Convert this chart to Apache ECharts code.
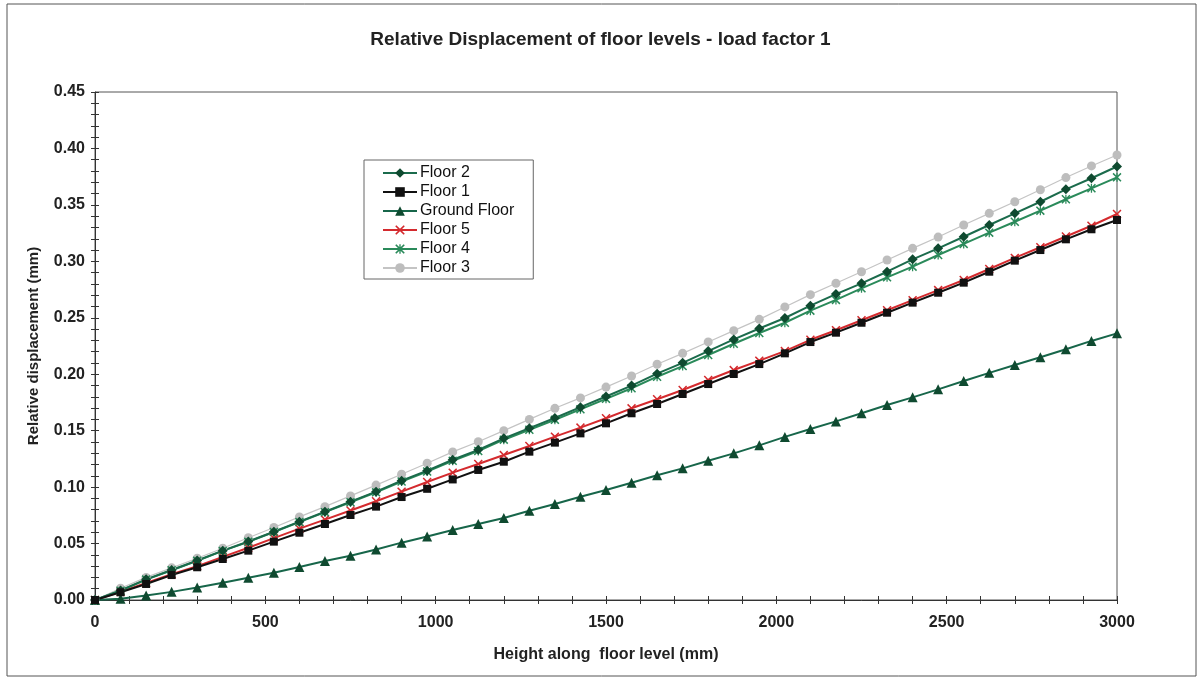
<!DOCTYPE html>
<html>
<head>
<meta charset="utf-8">
<script src="https://cdn.jsdelivr.net/npm/echarts@6/dist/echarts.min.js"></script>
<style>
html,body{margin:0;padding:0;background:#fff;}
#c{width:1201px;height:679px;}
</style>
</head>
<body>
<div id="c"></div>
<script>
// Height along floor level (mm)
const heights = [0,75,150,225,300,375,450,525,600,675,750,825,900,975,1050,1125,1200,1275,1350,1425,1500,1575,1650,1725,1800,1875,1950,2025,2100,2175,2250,2325,2400,2475,2550,2625,2700,2775,2850,2925,3000];

const floor2 = [0,0.0085,0.0183,0.0266,0.0350,0.0437,0.0518,0.0605,0.0694,0.0782,0.0871,0.0960,0.1057,0.1146,0.1242,0.1330,0.1432,0.1522,0.1612,0.1708,0.1803,0.1899,0.2005,0.2101,0.2205,0.2308,0.2405,0.2498,0.2607,0.2710,0.2805,0.2908,0.3018,0.3115,0.3218,0.3322,0.3425,0.3528,0.3638,0.3736,0.3840];
const floor1 = [0,0.0068,0.0142,0.0221,0.0290,0.0363,0.0437,0.0517,0.0596,0.0673,0.0753,0.0827,0.0912,0.0985,0.1068,0.1152,0.1225,0.1314,0.1394,0.1476,0.1565,0.1654,0.1736,0.1825,0.1913,0.2002,0.2090,0.2185,0.2285,0.2368,0.2456,0.2545,0.2634,0.2722,0.2811,0.2908,0.3006,0.3100,0.3195,0.3284,0.3366];
const groundFloor = [0,0.0012,0.0040,0.0072,0.0110,0.0152,0.0198,0.0242,0.0292,0.0345,0.0392,0.0448,0.0508,0.0562,0.0620,0.0673,0.0726,0.0790,0.0850,0.0914,0.0974,0.1039,0.1105,0.1166,0.1234,0.1299,0.1370,0.1445,0.1515,0.1582,0.1654,0.1727,0.1795,0.1866,0.1940,0.2012,0.2082,0.2150,0.2221,0.2295,0.2362];
const floor5 = [0,0.0072,0.0150,0.0228,0.0300,0.0382,0.0463,0.0548,0.0632,0.0712,0.0793,0.0875,0.0960,0.1045,0.1128,0.1205,0.1284,0.1364,0.1447,0.1527,0.1610,0.1698,0.1778,0.1860,0.1949,0.2037,0.2120,0.2205,0.2305,0.2390,0.2478,0.2567,0.2656,0.2745,0.2835,0.2932,0.3030,0.3125,0.3220,0.3315,0.3419];
const floor4 = [0,0.0082,0.0181,0.0264,0.0347,0.0435,0.0515,0.0602,0.0690,0.0778,0.0866,0.0954,0.1050,0.1138,0.1233,0.1320,0.1420,0.1508,0.1596,0.1690,0.1782,0.1876,0.1978,0.2072,0.2170,0.2270,0.2365,0.2456,0.2563,0.2658,0.2761,0.2858,0.2953,0.3056,0.3154,0.3254,0.3351,0.3449,0.3550,0.3647,0.3744];
const floor3 = [0,0.0104,0.0200,0.0285,0.0370,0.0458,0.0552,0.0642,0.0736,0.0827,0.0922,0.1018,0.1114,0.1212,0.1312,0.1402,0.1500,0.1600,0.1698,0.1790,0.1886,0.1984,0.2088,0.2185,0.2286,0.2386,0.2486,0.2596,0.2705,0.2806,0.2908,0.3012,0.3115,0.3215,0.3322,0.3425,0.3528,0.3634,0.3742,0.3845,0.3942];

const seriesNames = ['Floor 2','Floor 1','Ground Floor','Floor 5','Floor 4','Floor 3'];
const xTickLabels = ['0','500','1000','1500','2000','2500','3000'];
const yTickLabels = ['0.00','0.05','0.10','0.15','0.20','0.25','0.30','0.35','0.40','0.45'];

const FONT = '"Liberation Sans", Arial, sans-serif';
const crossPath = 'path://M0,1.2L1.2,0L5,3.8L8.8,0L10,1.2L6.2,5L10,8.8L8.8,10L5,6.2L1.2,10L0,8.8L3.8,5Z';
const starPath = 'path://M0,1.2L1.2,0L5,3.8L8.8,0L10,1.2L6.2,5L10,8.8L8.8,10L5,6.2L1.2,10L0,8.8L3.8,5Z M4.3,0L5.7,0L5.7,10L4.3,10Z';

function pairs(arr){ return heights.map((h,i)=>[h,arr[i]]); }

const chart = echarts.init(document.getElementById('c'), null, {renderer:'canvas'});

function mkX(inside, main){
  return {
    type:'value', min:0, max:3000, interval:500, position:'bottom',
    axisLine:{show:main, onZero:false, lineStyle:{color:'#333', width:1}},
    axisTick:{show:true, inside:inside, length:4, lineStyle:{color:'#333'}},
    minorTick:{show:true, splitNumber:5, length:4, lineStyle:{color:'#333'}},
    splitLine:{show:false},
    axisLabel:{show:main, color:'#222', fontFamily:FONT, fontWeight:'bold', fontSize:16, margin:15,
      formatter:(v)=>xTickLabels[Math.round(v/500)]},
    name: main ? 'Height along  floor level (mm)' : '',
    nameLocation:'middle', nameGap:47,
    nameTextStyle:{color:'#222', fontFamily:FONT, fontWeight:'bold', fontSize:16}
  };
}
function mkY(inside, main){
  return {
    type:'value', min:0, max:0.45, interval:0.05, position:'left',
    axisLine:{show:main, onZero:false, lineStyle:{color:'#333', width:1}},
    axisTick:{show:true, inside:inside, length:4, lineStyle:{color:'#333'}},
    minorTick:{show:true, splitNumber:5, length:4, lineStyle:{color:'#333'}},
    splitLine:{show:false},
    axisLabel:{show:main, color:'#222', fontFamily:FONT, fontWeight:'bold', fontSize:16, margin:10,
      formatter:(v)=>yTickLabels[Math.round(v/0.05)]},
    name: main ? 'Relative displacement (mm)' : '',
    nameLocation:'middle', nameGap:54, nameRotate:90,
    nameTextStyle:{color:'#222', fontFamily:FONT, fontWeight:'bold', fontSize:15}
  };
}

function mkSeries(name, data, color, lineW, symbol, size, symColor){
  return {
    name, type:'line', data:pairs(data), xAxisIndex:0, yAxisIndex:0,
    symbol, symbolSize:size, showSymbol:true, animation:false,
    lineStyle:{color, width:lineW},
    itemStyle:{color:symColor, borderWidth:0},
    emphasis:{disabled:true}
  };
}

chart.setOption({
  backgroundColor:'#ffffff',
  animation:false,
  title:{
    text:'Relative Displacement of floor levels - load factor 1',
    left:'center', top:25,
    textStyle:{color:'#222', fontFamily:FONT, fontWeight:'bold', fontSize:19}
  },
  grid:{left:95, top:92, width:1022, height:508, show:true, borderColor:'#555', borderWidth:1, backgroundColor:'transparent'},
  legend:{
    orient:'vertical', left:364, top:160,
    itemWidth:34, itemHeight:12, itemGap:1,
    padding:[4,19,2,18],
    borderColor:'#666', borderWidth:1, backgroundColor:'#fff',
    textStyle:{color:'#111', fontFamily:FONT, fontSize:16, lineHeight:18, padding:[0,0,0,-2]},
    data:seriesNames
  },
  xAxis:[mkX(false,true), mkX(true,false)],
  yAxis:[mkY(false,true), mkY(true,false)],
  graphic:[{type:'rect', shape:{x:7, y:4, width:1189, height:672}, style:{fill:'none', stroke:'#555', lineWidth:1}, silent:true, z:-1}],
  series:[
    mkSeries(seriesNames[3], floor5, '#d42a2e', 2, crossPath, 9, '#d42a2e'),
    mkSeries(seriesNames[2], groundFloor, '#17664a', 2, 'triangle', 10, '#0f4a30'),
    mkSeries(seriesNames[5], floor3, '#c4c4c4', 1.2, 'circle', 9, '#bdbdbd'),
    mkSeries(seriesNames[4], floor4, '#2a8a5a', 2, starPath, 9, '#2a8a5a'),
    mkSeries(seriesNames[0], floor2, '#1b6b4c', 2, 'diamond', 10, '#0f4a30'),
    mkSeries(seriesNames[1], floor1, '#111111', 2, 'rect', 8, '#111111')
  ]
});
</script>
</body>
</html>
